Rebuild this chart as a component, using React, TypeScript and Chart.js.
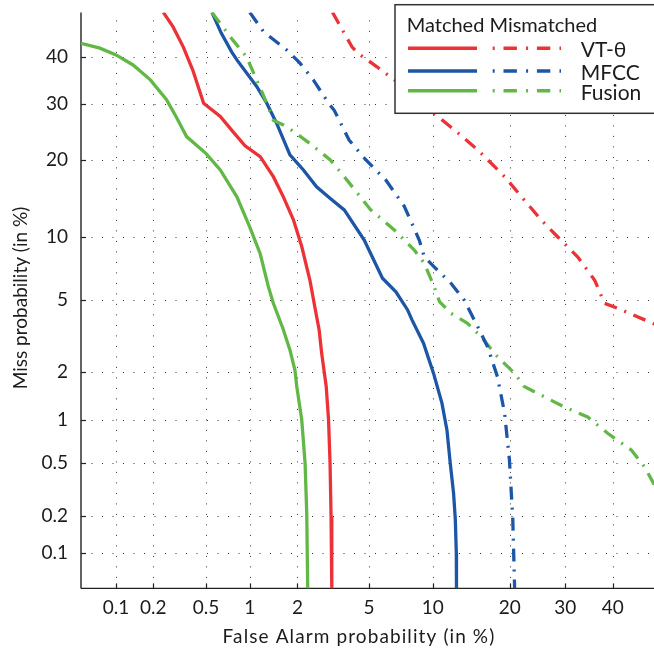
import { useEffect, useRef } from 'react';
import { Chart, Scale, registerables } from 'chart.js';

// ---------------- data (percent) ----------------
const xTicks = [0.1, 0.2, 0.5, 1, 2, 5, 10, 20, 30, 40];
const yTicks = [0.1, 0.2, 0.5, 1, 2, 5, 10, 20, 30, 40];
const axisMin = 0.05;
const axisMax = 50;

const vtMatchedFA = [0.24, 0.285, 0.34, 0.40, 0.48, 0.63, 0.77, 0.93, 1.17, 1.42, 1.64, 1.89, 2.12, 2.37, 2.57, 2.68, 2.77, 2.94, 3.03, 3.09, 3.13, 3.16];
const vtMatchedMiss = [50, 46.7, 42.2, 37.1, 30.2, 27.6, 24.8, 22.3, 20.5, 17.4, 14.6, 11.8, 9.05, 6.3, 4.28, 3.48, 2.58, 1.63, 1.0, 0.5, 0.2, 0.05];

const vtMismatchedFA = [3.19, 4.07, 4.40, 5.48, 6.67, 10.15, 12.35, 15.3, 19.2, 22.4, 25.4, 28.5, 32.5, 36.1, 38.2, 41.1, 47.2, 50];
const vtMismatchedMiss = [50, 42.2, 40.7, 37.8, 35.0, 28.2, 25.1, 21.6, 17.4, 14.2, 11.8, 10.0, 8.14, 6.3, 4.83, 4.55, 3.95, 3.7];

const mfccMatchedFA = [0.55, 0.64, 0.755, 0.82, 1.11, 1.29, 1.49, 1.80, 2.17, 2.59, 3.10, 3.70, 4.72, 5.84, 6.79, 7.71, 8.08, 9.11, 10.09, 10.96, 11.51, 11.88, 12.26, 12.46, 12.58, 12.6];
const mfccMatchedMiss = [50, 45.3, 41.1, 39.3, 33.6, 30.2, 26.3, 20.8, 18.4, 15.95, 14.4, 12.96, 9.68, 6.44, 5.52, 4.46, 3.95, 2.94, 1.96, 1.28, 0.85, 0.5, 0.3, 0.19, 0.1, 0.05];

const mfccMismatchedFA = [1.0, 1.23, 1.72, 2.07, 2.48, 3.03, 3.26, 3.93, 4.82, 6.07, 7.44, 8.72, 9.18, 10.15, 11.96, 13.55, 15.3, 16.65, 18.1, 19.2, 19.96, 20.5, 20.8];
const mfccMismatchedMiss = [50, 45.6, 41.5, 38.6, 35.0, 30.2, 28.8, 23.3, 19.96, 16.9, 13.4, 9.68, 8.14, 7.3, 6.09, 5.0, 3.62, 2.81, 1.87, 1.10, 0.53, 0.19, 0.05];

const fusionMatchedFA = [0.05, 0.073, 0.1, 0.138, 0.19, 0.254, 0.30, 0.36, 0.5, 0.63, 0.82, 1.0, 1.17, 1.32, 1.42, 1.63, 1.80, 1.93, 1.98, 2.12, 2.22, 2.27, 2.30];
const fusionMatchedMiss = [43.0, 41.9, 40.4, 38.2, 35.0, 30.9, 27.6, 23.9, 21.0, 18.4, 14.6, 11.0, 8.4, 5.86, 4.83, 3.55, 2.69, 2.05, 1.63, 1.0, 0.5, 0.21, 0.05];

const fusionMismatchedFA = [0.55, 0.77, 0.95, 1.11, 1.29, 1.42, 1.72, 2.37, 3.10, 3.70, 5.1, 6.67, 8.28, 9.18, 10.15, 10.7, 11.96, 13.95, 15.75, 18.1, 20.8, 22.4, 29.8, 34.6, 38.9, 44.2, 47.2, 50];
const fusionMismatchedMiss = [50, 43.7, 40.0, 35.0, 30.2, 26.9, 25.7, 22.7, 19.96, 17.4, 12.96, 10.7, 8.73, 7.6, 5.86, 4.92, 4.28, 3.79, 3.19, 2.46, 1.96, 1.63, 1.21, 1.04, 0.81, 0.62, 0.47, 0.32];

const seriesNames = ['VT-θ', 'MFCC', 'Fusion'];
const legendHeader = 'Matched Mismatched';
const xTitle = 'False Alarm probability (in %)';
const yTitle = 'Miss probability (in %)';

// ---------------- styles ----------------
const RED = '#ED3237';
const BLUE = '#1D56A6';
const GREEN = '#62B846';
const colors = [RED, BLUE, GREEN];
const DASHDOT = [13, 8, 2, 8];
const LW = 3.3;
const FONT = 'Lato, "Open Sans", sans-serif';
const TEXT = '#1c1c1c';

// ---------------- probit helpers ----------------
function probit(p: number): number {
  const a = [-3.969683028665376e1, 2.209460984245205e2, -2.759285104469687e2, 1.38357751867269e2, -3.066479806614716e1, 2.506628277459239];
  const b = [-5.447609879822406e1, 1.615858368580409e2, -1.556989798598866e2, 6.680131188771972e1, -1.328068155288572e1];
  const c = [-7.784894002430293e-3, -3.223964580411365e-1, -2.400758277161838, -2.549732539343734, 4.374664141464968, 2.938163982698783];
  const d = [7.784695709041462e-3, 3.224671290700398e-1, 2.445134137142996, 3.754408661907416];
  const pl = 0.02425;
  if (p <= 0) return -8;
  if (p >= 1) return 8;
  if (p < pl) {
    const q = Math.sqrt(-2 * Math.log(p));
    return (((((c[0] * q + c[1]) * q + c[2]) * q + c[3]) * q + c[4]) * q + c[5]) / ((((d[0] * q + d[1]) * q + d[2]) * q + d[3]) * q + 1);
  }
  if (p <= 1 - pl) {
    const q = p - 0.5;
    const r = q * q;
    return (((((a[0] * r + a[1]) * r + a[2]) * r + a[3]) * r + a[4]) * r + a[5]) * q / (((((b[0] * r + b[1]) * r + b[2]) * r + b[3]) * r + b[4]) * r + 1);
  }
  const q = Math.sqrt(-2 * Math.log(1 - p));
  return -(((((c[0] * q + c[1]) * q + c[2]) * q + c[3]) * q + c[4]) * q + c[5]) / ((((d[0] * q + d[1]) * q + d[2]) * q + d[3]) * q + 1);
}
function normCdf(z: number): number {
  const t = 1 / (1 + 0.2316419 * Math.abs(z));
  const dd = 0.3989423 * Math.exp(-z * z / 2);
  const pr = dd * t * (0.3193815 + t * (-0.3565638 + t * (1.781478 + t * (-1.821256 + t * 1.330274))));
  return z > 0 ? 1 - pr : pr;
}

class ProbitScale extends Scale {
  static id = 'probit';
  static defaults = {};
  _zMin = 0;
  _zMax = 1;
  determineDataLimits() {
    const o: any = this.options;
    this.min = o.min;
    this.max = o.max;
  }
  buildTicks() {
    const o: any = this.options;
    return (o.tickValues || []).map((v: number) => ({ value: v }));
  }
  configure() {
    super.configure();
    this._zMin = probit(this.min / 100);
    this._zMax = probit(this.max / 100);
  }
  getPixelForValue(v: number) {
    return this.getPixelForDecimal((probit(v / 100) - this._zMin) / (this._zMax - this._zMin));
  }
  getValueForPixel(px: number) {
    const dd = this.getDecimalForPixel(px);
    return 100 * normCdf(this._zMin + dd * (this._zMax - this._zMin));
  }
  getPixelForTick(i: number) {
    return this.getPixelForValue(this.ticks[i].value);
  }
  getLabelForValue(v: number) {
    return String(v);
  }
}

Chart.register(...registerables, ProbitScale as any);

function zip(xs: number[], ys: number[]) {
  return xs.map((x, i) => ({ x, y: ys[i] }));
}

const gridPlugin = {
  id: 'detGrid',
  beforeDatasetsDraw(chart: any) {
    const { ctx, chartArea: a, scales } = chart;
    const x = scales.x;
    const y = scales.y;
    const line = (x1: number, y1: number, x2: number, y2: number) => {
      ctx.beginPath();
      ctx.moveTo(x1, y1);
      ctx.lineTo(x2, y2);
      ctx.stroke();
    };
    ctx.save();
    ctx.strokeStyle = '#333';
    ctx.lineWidth = 1;
    ctx.setLineDash([1, 9.5]);
    for (const t of xTicks) {
      const px = Math.round(x.getPixelForValue(t)) + 0.5;
      line(px, a.bottom, px, a.top);
    }
    for (const t of yTicks) {
      const py = Math.round(y.getPixelForValue(t)) + 0.5;
      line(a.left, py, a.right, py);
    }
    ctx.setLineDash([]);
    ctx.strokeStyle = '#222';
    ctx.lineWidth = 1.2;
    for (const t of xTicks) {
      const px = Math.round(x.getPixelForValue(t)) + 0.5;
      line(px, a.bottom, px, a.bottom - 5);
    }
    for (const t of yTicks) {
      const py = Math.round(y.getPixelForValue(t)) + 0.5;
      line(a.left, py, a.left + 5, py);
    }
    ctx.lineWidth = 1.4;
    line(a.left, a.top, a.left, a.bottom);
    line(a.left, a.bottom, a.right + 5, a.bottom);
    ctx.restore();
  },
  afterDatasetsDraw(chart: any) {
    const { ctx } = chart;
    ctx.save();
    // legend box
    ctx.fillStyle = '#fff';
    ctx.strokeStyle = '#333';
    ctx.lineWidth = 1.5;
    ctx.fillRect(395, 4.7, 280, 108.6);
    ctx.strokeRect(395, 4.7, 280, 108.6);
    ctx.fillStyle = TEXT;
    ctx.textBaseline = 'alphabetic';
    ctx.textAlign = 'left';
    ctx.font = `20px ${FONT}`;
    ctx.fillText(legendHeader, 406.7, 31.7);
    const rowY = [48.3, 71, 90.7];
    const baseY = [56.7, 80, 100];
    ctx.lineWidth = 3.6;
    ctx.lineCap = 'butt';
    for (let i = 0; i < 3; i++) {
      ctx.strokeStyle = colors[i];
      ctx.setLineDash([]);
      ctx.beginPath();
      ctx.moveTo(408, rowY[i]);
      ctx.lineTo(477, rowY[i]);
      ctx.stroke();
      ctx.setLineDash([2, 8.8, 13.4, 9.2]);
      ctx.beginPath();
      ctx.moveTo(492.7, rowY[i]);
      ctx.lineTo(561, rowY[i]);
      ctx.stroke();
      ctx.setLineDash([]);
      ctx.font = `21px ${FONT}`;
      ctx.fillStyle = TEXT;
      ctx.fillText(seriesNames[i], 580.7, baseY[i]);
    }
    // axis titles
    ctx.font = `19px ${FONT}`;
    ctx.textAlign = 'center';
    ctx.textBaseline = 'alphabetic';
    (ctx as any).letterSpacing = '1.1px';
    ctx.fillText(xTitle, 359, 643);
    (ctx as any).letterSpacing = '0px';
    ctx.translate(27, 298);
    ctx.rotate(-Math.PI / 2);
    ctx.fillText(yTitle, 0, 0);
    ctx.restore();
  },
};

const zeroPad = (s: any) => {
  s.paddingTop = 0;
  s.paddingBottom = 0;
  s.paddingLeft = 0;
  s.paddingRight = 0;
};

export default function App() {
  const ref = useRef<HTMLCanvasElement | null>(null);
  useEffect(() => {
    if (!ref.current) return;
    const mk = (label: string, xs: number[], ys: number[], color: string, dashed: boolean) => ({
      label,
      data: zip(xs, ys),
      borderColor: color,
      backgroundColor: color,
      borderWidth: LW,
      borderDash: dashed ? DASHDOT : [],
      pointRadius: 0,
      tension: 0,
      fill: false,
      clip: 0,
    });
    const chart = new Chart(ref.current, {
      type: 'line',
      data: {
        datasets: [
          mk('VT-θ Mismatched', vtMismatchedFA, vtMismatchedMiss, RED, true),
          mk('MFCC Mismatched', mfccMismatchedFA, mfccMismatchedMiss, BLUE, true),
          mk('Fusion Mismatched', fusionMismatchedFA, fusionMismatchedMiss, GREEN, true),
          mk('VT-θ Matched', vtMatchedFA, vtMatchedMiss, RED, false),
          mk('MFCC Matched', mfccMatchedFA, mfccMatchedMiss, BLUE, false),
          mk('Fusion Matched', fusionMatchedFA, fusionMatchedMiss, GREEN, false),
        ] as any,
      },
      options: {
        animation: false,
        responsive: false,
        events: [],
        layout: { padding: { top: 12.4, left: 0, right: 0, bottom: 0 } },
        plugins: { legend: { display: false }, tooltip: { enabled: false }, title: { display: false } },
        scales: {
          x: {
            type: 'probit' as any,
            position: 'bottom',
            min: axisMin,
            max: axisMax,
            tickValues: xTicks,
            grid: { display: false, drawTicks: false, tickLength: 0 },
            border: { display: false },
            ticks: {
              autoSkip: false,
              maxRotation: 0,
              padding: 7.8,
              color: TEXT,
              font: { family: FONT, size: 19 },
              callback: (v: any) => String(v),
            },
            afterFit: (s: any) => {
              s.height = 60.6;
              zeroPad(s);
            },
          } as any,
          y: {
            type: 'probit' as any,
            position: 'left',
            min: axisMin,
            max: axisMax,
            tickValues: yTicks,
            grid: { display: false, drawTicks: false, tickLength: 0 },
            border: { display: false },
            ticks: {
              autoSkip: false,
              padding: 13,
              color: TEXT,
              font: { family: FONT, size: 19 },
              callback: (v: any) => String(v),
            },
            afterFit: (s: any) => {
              s.width = 81;
              zeroPad(s);
            },
          } as any,
        },
      },
      plugins: [gridPlugin],
    });
    return () => chart.destroy();
  }, []);
  return (
    <div style={{ position: 'absolute', left: 0, top: 0, width: 654, height: 649, overflow: 'hidden', background: '#fff' }}>
      <canvas ref={ref} width={657} height={649} style={{ width: 657, height: 649, display: 'block' }} />
    </div>
  );
}
